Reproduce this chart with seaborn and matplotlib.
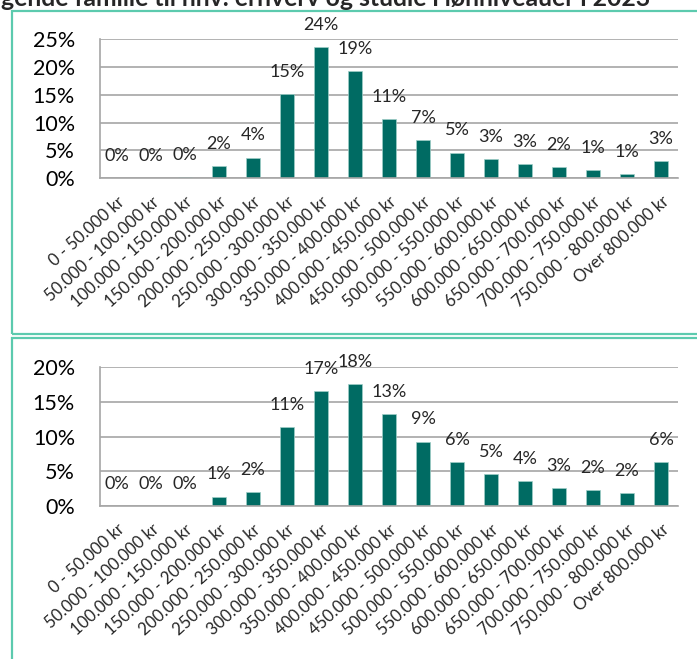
import numpy as np
import matplotlib.pyplot as plt
import matplotlib.patches as patches
import seaborn as sns

# income bands (same for both panels)
categories = ["0 - 50.000 kr", "50.000 - 100.000 kr", "100.000 - 150.000 kr",
              "150.000 - 200.000 kr", "200.000 - 250.000 kr", "250.000 - 300.000 kr",
              "300.000 - 350.000 kr", "350.000 - 400.000 kr", "400.000 - 450.000 kr",
              "450.000 - 500.000 kr", "500.000 - 550.000 kr", "550.000 - 600.000 kr",
              "600.000 - 650.000 kr", "650.000 - 700.000 kr", "700.000 - 750.000 kr",
              "750.000 - 800.000 kr", "Over 800.000 kr"]

# share in percent, top panel
top_values = [0.0, 0.05, 0.2, 2.2, 3.7, 15.1, 23.6, 19.3, 10.6, 6.8, 4.6, 3.4, 2.6, 2.0, 1.4, 0.7, 3.1]
# share in percent, bottom panel
bottom_values = [0.0, 0.0, 0.0, 1.35, 2.0, 11.35, 16.6, 17.6, 13.3, 9.3, 6.3, 4.6, 3.6, 2.6, 2.3, 1.9, 6.3]

top_yticks = [0, 5, 10, 15, 20, 25]
bottom_yticks = [0, 5, 10, 15, 20]

title = "gende familie til hhv. erhverv og studie i lønniveauer i 2023"

bar_color = "#006b63"
grid_color = "#a6a6a6"
frame_color = "#5ccaae"

sns.set_theme(style="white")
plt.rcParams['font.family'] = ['Lato', 'DejaVu Sans']

W, H = 697, 659
fig = plt.figure(figsize=(W / 100, H / 100), dpi=100)

# panel frames
for (x0, y0, x1, y1) in [(12, 11, 700, 334), (12, 338, 700, 662)]:
    rect = patches.Rectangle((x0 / W, 1 - y1 / H), (x1 - x0) / W, (y1 - y0) / H,
                             transform=fig.transFigure, fill=False,
                             edgecolor=frame_color, linewidth=1.6)
    fig.patches.append(rect)

fig.text(1 / W, 1 - 6 / H, title, fontsize=17.8, fontweight='bold', va='baseline', ha='left')


def draw_panel(ax, values, yticks):
    sns.barplot(x=categories, y=values, ax=ax, color=bar_color, saturation=1,
                width=0.42, edgecolor="#9fcfc8", linewidth=0.5)
    ax.set_xlim(-0.5, len(categories) - 0.5)
    ax.set_ylim(0, yticks[-1])
    ax.set_yticks(yticks)
    ax.set_yticklabels([f"{t}%" for t in yticks], fontsize=15.5)
    ax.yaxis.grid(True, color=grid_color, linewidth=1.2)
    ax.set_axisbelow(True)
    for s in ['top', 'right']:
        ax.spines[s].set_visible(False)
    for s in ['left', 'bottom']:
        ax.spines[s].set_color(grid_color)
        ax.spines[s].set_linewidth(1.2)
    ax.tick_params(axis='y', length=6, width=1.2, color=grid_color, pad=12, labelcolor='black')
    ax.set_xticks(np.arange(-0.5, len(categories), 1), minor=True)
    ax.tick_params(axis='x', which='minor', length=5, width=1.2, color=grid_color, direction='out')
    ax.tick_params(axis='x', which='major', length=0, pad=11)
    ax.set_xticks(range(len(categories)))
    ax.set_xticklabels(categories, rotation=42, ha='right', rotation_mode='anchor', fontsize=12)
    ax.set_xlabel("")
    ax.set_ylabel("")
    for i, v in enumerate(values):
        ax.annotate(f"{v:.0f}%", (i, v), xytext=(0, 16), textcoords='offset points',
                    ha='center', va='center', fontsize=13)


ax1 = fig.add_axes([100 / W, 1 - 178.3 / H, 578 / W, 139.3 / H])
draw_panel(ax1, top_values, top_yticks)

ax2 = fig.add_axes([100 / W, 1 - 506 / H, 578 / W, 138.7 / H])
draw_panel(ax2, bottom_values, bottom_yticks)

fig.savefig("out.png", dpi=100)
